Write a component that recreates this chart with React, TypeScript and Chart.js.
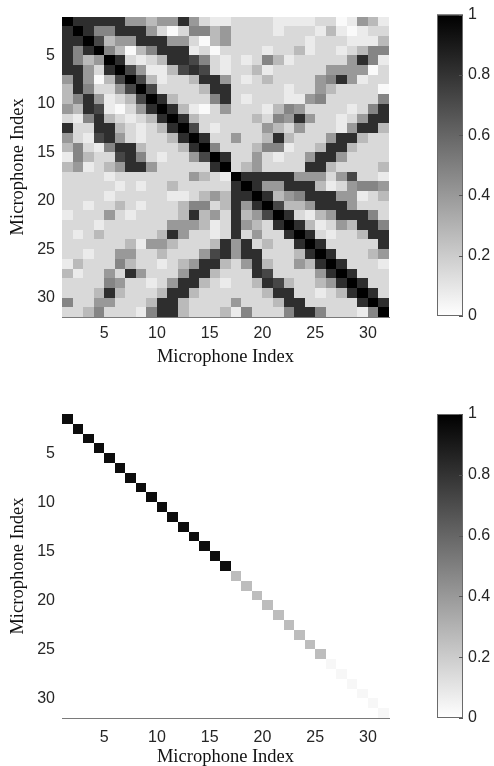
import React, { useEffect, useRef } from 'react';
import { Chart, registerables } from 'chart.js';

Chart.register(...registerables);

// Microphone indices (cell i covers [i, i+1] on both axes, axis runs 1..32)
const MIC_INDICES = [1, 2, 3, 4, 5, 6, 7, 8, 9, 10, 11, 12, 13, 14, 15, 16, 17, 18, 19, 20, 21, 22, 23, 24, 25, 26, 27, 28, 29, 30, 31];
const AXIS_TICKS = [5, 10, 15, 20, 25, 30];
const COLORBAR_TICKS = [0, 0.2, 0.4, 0.6, 0.8, 1];
const AXIS_TITLE = 'Microphone Index';

// Key for the level characters used in the matrix rows below
const LEVEL_VALUES: Record<string, number> = {
  '0': 0.02, '1': 0.08, '2': 0.15, '3': 0.27, '4': 0.4, '5': 0.48,
  '6': 0.6, '7': 0.72, '8': 0.82, '9': 0.9, 'a': 1.0,
};

// Top matrix: one string per row, each character is a level (see key above)
const SIMILARITY_ROWS = [
  'a888884434484211222211112201431',
  '8a85588842025534222212221310122',
  '88a7344888442034222222212221113',
  '858a530358881202222122312212355',
  '8534a82123887521212531222224851',
  '88428a7411378721223122222444402',
  '484037a731223884212322224584122',
  '3852247a72222388222221224322220',
  '35841237a8322258212221145222225',
  '438710248a831024222135422221258',
  '2158321238a83222223254842212488',
  '82288321238a7212222432422214883',
  '421784212238a822422383222488322',
  '3521588322238a52223551223883222',
  '15322785212247a8224212248842222',
  '341234884222228a234222288322223',
  '2222122222224321a88888444247221',
  '22222121223222228a8448883124554',
  '222212222211234388a834588844123',
  '2212232122235523848a73348884222',
  '12224212222383428347a8213488852',
  '222122222244431284328a831243885',
  '2123222223842212824228a82122388',
  '22222231443222384823228a8222228',
  '221224422322247848822238a822234',
  '1322253221234883248322438a82221',
  '31224284222488322287222248a8222',
  '222254221248832122387322348a822',
  '2223832223883222222388221238a82',
  '52244222388322224222388222228a8',
  '223522215883222315222588522215a',
];

// Bottom matrix: only the diagonal is non-zero
const DIAGONAL_WEIGHTS = [
  0.95, 0.95, 0.95, 0.95, 0.95, 0.95, 0.95, 0.95, 0.95, 0.95, 0.95, 0.95, 0.95, 0.95, 0.95, 0.95,
  0.26, 0.26, 0.26, 0.26, 0.26, 0.26, 0.26, 0.26, 0.26,
  0.03, 0.03, 0.03, 0.03, 0.03, 0.03,
];

type Cell = { x: number; y: number; v: number };

const topCells: Cell[] = SIMILARITY_ROWS.flatMap((row, r) =>
  row.split('').map((ch, c) => ({ x: MIC_INDICES[c], y: MIC_INDICES[r], v: LEVEL_VALUES[ch] }))
);
const bottomCells: Cell[] = DIAGONAL_WEIGHTS.map((v, i) => ({ x: MIC_INDICES[i], y: MIC_INDICES[i], v }));

const gray = (v: number) => {
  const g = Math.round(255 * (1 - Math.max(0, Math.min(1, v))));
  return `rgb(${g},${g},${g})`;
};

const heatCellsPlugin = {
  id: 'heatCells',
  beforeDatasetsDraw(chart: any) {
    const { ctx, scales } = chart;
    const xs = scales.x;
    const ys = scales.y;
    ctx.save();
    chart.data.datasets.forEach((ds: any) => {
      (ds.data as Cell[]).forEach((p) => {
        const x0 = Math.round(xs.getPixelForValue(p.x));
        const x1 = Math.round(xs.getPixelForValue(p.x + 1));
        const y0 = Math.round(ys.getPixelForValue(p.y));
        const y1 = Math.round(ys.getPixelForValue(p.y + 1));
        ctx.fillStyle = gray(p.v);
        ctx.fillRect(Math.min(x0, x1), Math.min(y0, y1), Math.abs(x1 - x0), Math.abs(y1 - y0));
      });
    });
    ctx.restore();
  },
};

const colorbarPlugin = {
  id: 'colorbarFill',
  beforeDatasetsDraw(chart: any) {
    const { ctx, chartArea, scales } = chart;
    const ys = scales.y;
    const top = ys.getPixelForValue(1);
    const bottom = ys.getPixelForValue(0);
    const grad = ctx.createLinearGradient(0, top, 0, bottom);
    grad.addColorStop(0, gray(1));
    grad.addColorStop(1, gray(0));
    ctx.save();
    ctx.fillStyle = grad;
    ctx.fillRect(chartArea.left, top, chartArea.right - chartArea.left, bottom - top);
    ctx.strokeStyle = '#6a6a6a';
    ctx.lineWidth = 1;
    ctx.strokeRect(chartArea.left + 0.5, top + 0.5, chartArea.right - chartArea.left - 1, bottom - top - 1);
    ctx.strokeStyle = '#555';
    ys.ticks.forEach((t: any) => {
      const py = Math.round(ys.getPixelForValue(t.value)) + 0.5;
      ctx.beginPath();
      ctx.moveTo(chartArea.right - 4, py);
      ctx.lineTo(chartArea.right, py);
      ctx.stroke();
    });
    ctx.restore();
  },
};

const TICK_FONT = { family: "'Liberation Sans', Arial, sans-serif", size: 16 };
const TITLE_FONT = { family: "'Liberation Serif', 'Times New Roman', serif", size: 18.5, lineHeight: 1 };

function heatmapConfig(cells: Cell[], padTop: number, xAxisHeight: number, tickPad: number, titlePadBottom: number): any {
  return {
    type: 'scatter',
    data: { datasets: [{ data: cells, pointRadius: 0, showLine: false }] },
    plugins: [heatCellsPlugin],
    options: {
      responsive: false,
      animation: false,
      events: [],
      layout: { padding: { top: padTop, right: 105, bottom: 0, left: 0 } },
      plugins: { legend: { display: false }, tooltip: { enabled: false } },
      scales: {
        x: {
          type: 'linear',
          position: 'bottom',
          min: 1,
          max: 32,
          z: 1,
          afterBuildTicks: (s: any) => { s.ticks = AXIS_TICKS.map((v) => ({ value: v })); },
          afterFit: (s: any) => { s.height = xAxisHeight; },
          grid: { display: false, drawTicks: false },
          border: { display: true, color: '#7a7a7a', width: 1 },
          ticks: { font: TICK_FONT, color: '#262626', padding: tickPad, maxRotation: 0, callback: (v: any) => `${v}` },
          title: { display: true, text: AXIS_TITLE, font: TITLE_FONT, color: '#111', padding: { top: 0, bottom: titlePadBottom } },
        },
        y: {
          type: 'linear',
          position: 'left',
          min: 1,
          max: 32,
          reverse: true,
          afterBuildTicks: (s: any) => { s.ticks = AXIS_TICKS.map((v) => ({ value: v })); },
          afterFit: (s: any) => { s.width = 62; },
          grid: { display: false, drawTicks: false },
          border: { display: false },
          ticks: { font: TICK_FONT, color: '#262626', padding: 7, callback: (v: any) => `${v}` },
          title: { display: true, text: AXIS_TITLE, font: TITLE_FONT, color: '#111', padding: { top: 9, bottom: 0 } },
        },
      },
    },
  };
}

function colorbarConfig(padTop: number, padBottom: number): any {
  return {
    type: 'scatter',
    data: { datasets: [{ data: [], pointRadius: 0 }] },
    plugins: [colorbarPlugin],
    options: {
      responsive: false,
      animation: false,
      events: [],
      layout: { padding: { top: padTop, right: 0, bottom: padBottom, left: 37 } },
      plugins: { legend: { display: false }, tooltip: { enabled: false } },
      scales: {
        x: { type: 'linear', display: false, min: 0, max: 1 },
        y: {
          type: 'linear',
          position: 'right',
          min: 0,
          max: 1,
          afterBuildTicks: (s: any) => { s.ticks = COLORBAR_TICKS.map((v) => ({ value: v })); },
          afterFit: (s: any) => { s.width = 31; },
          grid: { display: false, drawTicks: false },
          border: { display: false },
          ticks: { font: TICK_FONT, color: '#262626', padding: 5, callback: (v: any) => `${Number(v)}` },
        },
      },
    },
  };
}

export default function App() {
  const topRef = useRef<HTMLCanvasElement>(null);
  const topBarRef = useRef<HTMLCanvasElement>(null);
  const botRef = useRef<HTMLCanvasElement>(null);
  const botBarRef = useRef<HTMLCanvasElement>(null);

  useEffect(() => {
    const charts: Chart[] = [];
    if (topRef.current) charts.push(new Chart(topRef.current, heatmapConfig(topCells, 10, 66, 7, 16.75)));
    if (topBarRef.current) charts.push(new Chart(topBarRef.current, colorbarConfig(12, 67)));
    if (botRef.current) charts.push(new Chart(botRef.current, heatmapConfig(bottomCells, 31, 48, 10, 0)));
    if (botBarRef.current) charts.push(new Chart(botBarRef.current, colorbarConfig(31, 48)));
    return () => charts.forEach((c) => c.destroy());
  }, []);

  const abs = (left: number, top: number, w: number, h: number): React.CSSProperties => ({
    position: 'absolute', left, top, width: w, height: h, display: 'block',
  });

  return (
    <div style={{ position: 'absolute', left: 0, top: 0, width: 494, height: 766, background: '#fff', overflow: 'hidden' }}>
      <canvas ref={topRef} width={494} height={383} style={abs(0, 0, 494, 383)} />
      <canvas ref={topBarRef} width={94} height={383} style={abs(400, 0, 94, 383)} />
      <canvas ref={botRef} width={494} height={383} style={abs(0, 383, 494, 383)} />
      <canvas ref={botBarRef} width={94} height={383} style={abs(400, 383, 94, 383)} />
    </div>
  );
}
